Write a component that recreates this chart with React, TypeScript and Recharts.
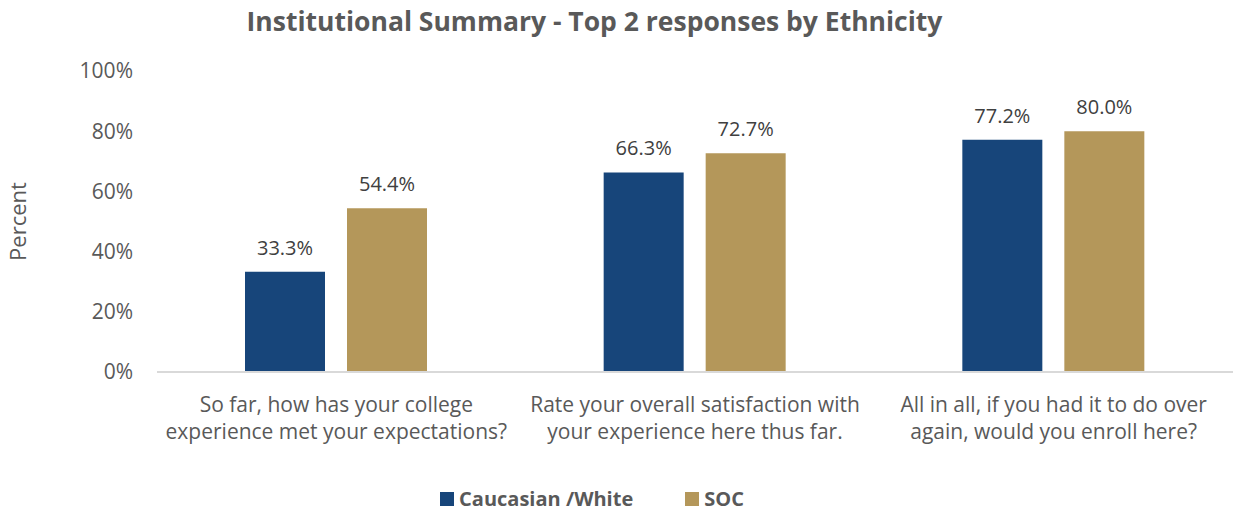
import { BarChart, Bar, XAxis, YAxis, LabelList, Legend } from 'recharts';

const categories = [
  'So far, how has your college experience met your expectations?',
  'Rate your overall satisfaction with your experience here thus far.',
  'All in all, if you had it to do over again, would you enroll here?',
];
const categoryLines = [
  ['So far, how has your college', 'experience met your expectations?'],
  ['Rate your overall satisfaction with', 'your experience here thus far.'],
  ['All in all, if you had it to do over', 'again, would you enroll here?'],
];
const caucasianWhite = [33.3, 66.3, 77.2];
const soc = [54.4, 72.7, 80.0];
const yTicks = [0, 20, 40, 60, 80, 100];

const data = categories.map((name, i) => ({
  name,
  white: caucasianWhite[i],
  soc: soc[i],
}));

const FONT = '"Open Sans", Lato, sans-serif';
const TEXT = '#595959';
const BLUE = '#17457A';
const GOLD = '#B4975A';

const CategoryTick = ({ x, y, index }: any) => {
  const lines = categoryLines[index] || [];
  return (
    <g transform={`translate(${x},${y})`}>
      {lines.map((line, i) => (
        <text
          key={i}
          x={0}
          y={32 + i * 27}
          textAnchor="middle"
          fill={TEXT}
          fontSize={21}
          fontFamily={FONT}
        >
          {line}
        </text>
      ))}
    </g>
  );
};

const LegendContent = () => (
  <div
    style={{
      display: 'flex',
      justifyContent: 'center',
      gap: 52,
      paddingRight: 49,
      fontFamily: FONT,
      fontWeight: 700,
      fontSize: 20,
      color: TEXT,
    }}
  >
    {[
      { label: 'Caucasian /White', color: BLUE },
      { label: 'SOC', color: GOLD },
    ].map((it) => (
      <div key={it.label} style={{ display: 'flex', alignItems: 'center' }}>
        <span
          style={{ width: 14, height: 14, background: it.color, marginRight: 5, display: 'inline-block' }}
        />
        {it.label}
      </div>
    ))}
  </div>
);

export default function App() {
  return (
    <div style={{ width: 1236, height: 510, position: 'relative', background: '#fff' }}>
      <style>{'body{margin:0}'}</style>
      <div
        style={{
          position: 'absolute',
          top: 3,
          left: 0,
          width: 1189,
          textAlign: 'center',
          fontFamily: FONT,
          fontWeight: 700,
          fontSize: 26.5,
          color: TEXT,
        }}
      >
        Institutional Summary - Top 2 responses by Ethnicity
      </div>
      <BarChart
        width={1236}
        height={510}
        data={data}
        margin={{ top: 71, right: 3, bottom: 0, left: 0 }}
        barCategoryGap={88}
        barGap={22}
      >
        <XAxis
          dataKey="name"
          axisLine={{ stroke: '#D9D9D9', strokeWidth: 2 }}
          tickLine={false}
          tick={<CategoryTick />}
          interval={0}
          height={100}
        />
        <YAxis
          width={157}
          domain={[0, 100]}
          ticks={yTicks}
          tickFormatter={(v: number) => `${v}%`}
          axisLine={false}
          tickLine={false}
          tickMargin={18}
          tick={{ fill: TEXT, fontSize: 21, fontFamily: FONT }}
          label={{
            value: 'Percent',
            angle: -90,
            position: 'insideLeft',
            dx: 13,
            style: { fill: TEXT, fontSize: 22, fontFamily: FONT, textAnchor: 'middle' },
          }}
        />
        <Legend
          verticalAlign="bottom"
          height={38}
          content={<LegendContent />}
          wrapperStyle={{ top: 485, bottom: 'auto' }}
        />
        <Bar dataKey="white" name="Caucasian /White" fill={BLUE} isAnimationActive={false}>
          <LabelList
            dataKey="white"
            position="top"
            offset={17}
            formatter={(v: any) => `${Number(v).toFixed(1)}%`}
            style={{ fill: '#404040', fontSize: 20, fontFamily: FONT }}
          />
        </Bar>
        <Bar dataKey="soc" name="SOC" fill={GOLD} isAnimationActive={false}>
          <LabelList
            dataKey="soc"
            position="top"
            offset={17}
            formatter={(v: any) => `${Number(v).toFixed(1)}%`}
            style={{ fill: '#404040', fontSize: 20, fontFamily: FONT }}
          />
        </Bar>
      </BarChart>
    </div>
  );
}
